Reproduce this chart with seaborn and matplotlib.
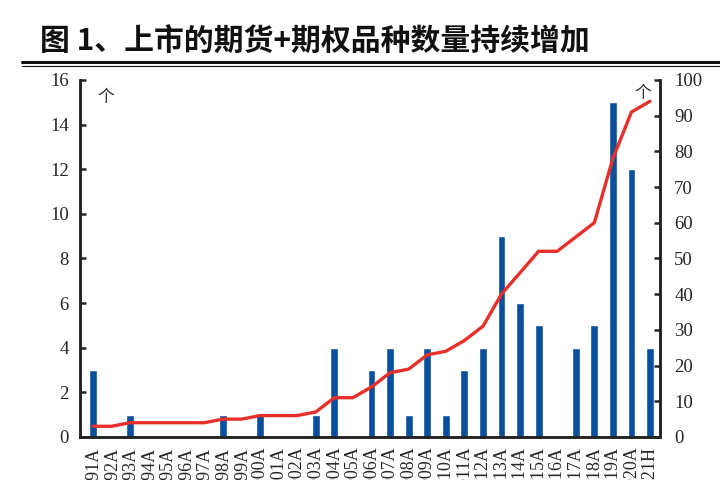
import numpy as np
import pandas as pd
import matplotlib.pyplot as plt
import seaborn as sns
from matplotlib.lines import Line2D

years = ['1991A', '1992A', '1993A', '1994A', '1995A', '1996A', '1997A', '1998A',
         '1999A', '2000A', '2001A', '2002A', '2003A', '2004A', '2005A', '2006A',
         '2007A', '2008A', '2009A', '2010A', '2011A', '2012A', '2013A', '2014A',
         '2015A', '2016A', '2017A', '2018A', '2019A', '2020A', '2021H']
new_listed = [3, 0, 1, 0, 0, 0, 0, 1, 0, 1, 0, 0, 1, 4, 0, 3, 4, 1, 4, 1, 3, 4,
              9, 6, 5, 0, 4, 5, 15, 12, 4]
total_listed = [3, 3, 4, 4, 4, 4, 4, 5, 5, 6, 6, 6, 7, 11, 11, 14, 18, 19, 23,
                24, 27, 31, 40, 46, 52, 52, 56, 60, 78, 91, 94]

df = pd.DataFrame({'year': years, 'new': new_listed, 'total': total_listed})
df['pos'] = np.arange(len(df))

sns.set_style('ticks')
plt.rcParams['font.family'] = ['Liberation Serif', 'Noto Sans CJK SC', 'DejaVu Sans']

fig = plt.figure(figsize=(7.2, 4.8), dpi=100)
ax = fig.add_axes([0.111, 0.0896, 0.806, 0.744])

sns.barplot(data=df, x='pos', y='new', color='#0a4f9e', saturation=1,
            width=0.42, ax=ax, native_scale=True)
ax.set_xlim(-0.7, 30.55)
ax.set_ylim(0, 16)
ax.set_yticks(np.arange(0, 17, 2))
ax.set_xticks(df['pos'])
ax.set_xticklabels(df['year'], rotation=90, fontsize=13)
ax.set_xlabel('')
ax.set_ylabel('')

ax2 = ax.twinx()
sns.lineplot(data=df, x='pos', y='total', color='#e8302a', linewidth=2.4, ax=ax2)
ax2.set_ylim(0, 100)
ax2.set_yticks(np.arange(0, 101, 10))
ax2.set_ylabel('')
ax2.set_xlim(-0.7, 30.55)

for a in (ax, ax2):
    a.spines['top'].set_visible(False)
    for s in ('left', 'right', 'bottom'):
        a.spines[s].set_linewidth(1.8)
        a.spines[s].set_color('#222222')
ax.tick_params(axis='y', direction='in', length=4, width=1.8, labelsize=13.5, pad=8)
ax2.tick_params(axis='y', direction='in', length=4, width=1.8, labelsize=13.5, pad=10)
ax.tick_params(axis='x', length=0, pad=7)

ax.text(0.03, 0.975, '个', transform=ax.transAxes, fontsize=12, color='#333333',
        family=['Noto Sans CJK SC'], va='top', ha='left')
ax.text(0.955, 0.985, '个', transform=ax.transAxes, fontsize=12, color='#333333',
        family=['Noto Sans CJK SC'], va='top', ha='left')

fig.text(0.055, 0.912, '图 1、上市的期货+期权品种数量持续增加', fontsize=21.5,
         fontweight='heavy', family=['Noto Sans CJK SC', 'DejaVu Sans'],
         va='center', ha='left', color='#111111')
fig.add_artist(Line2D([0.03, 1.0], [0.87, 0.87], color='#111111', lw=2.2))
fig.add_artist(Line2D([0.03, 1.0], [0.862, 0.862], color='#111111', lw=0.8))

fig.savefig('out.png', dpi=100)
